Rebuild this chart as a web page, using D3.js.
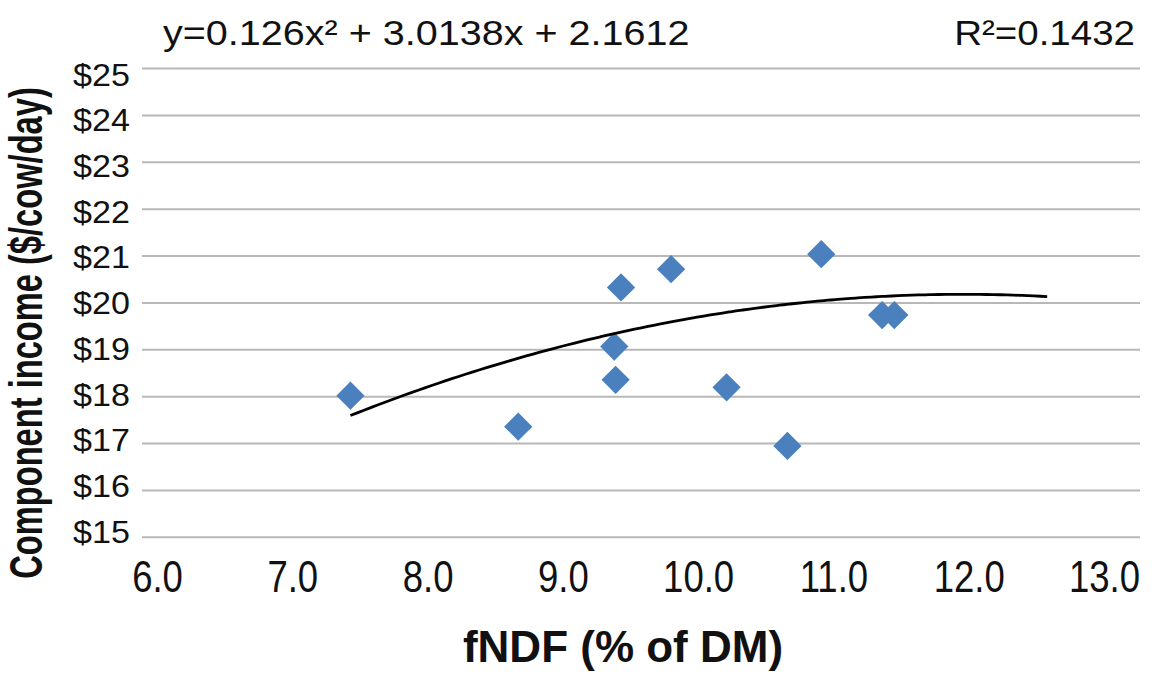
<!DOCTYPE html>
<html>
<head>
<meta charset="utf-8">
<script src="https://cdn.jsdelivr.net/npm/d3@7"></script>
<style>
  body { margin: 0; background: #fff; }
  svg { display: block; font-family: "Liberation Sans", Arial, sans-serif; }
</style>
</head>
<body>
<script>
'use strict';

// fNDF (% of DM) vs component income ($/cow/day)
const fndf   = [7.43, 8.67, 9.43, 9.38, 9.39, 9.80, 10.21, 10.91, 10.66, 11.36, 11.45];
const income = [18.02, 17.36, 20.33, 19.07, 18.36, 20.72, 18.20, 21.04, 16.95, 19.74, 19.74];

const xTicks = [6, 7, 8, 9, 10, 11, 12, 13];
const yTicks = [15, 16, 17, 18, 19, 20, 21, 22, 23, 24, 25];

// polynomial trendline as drawn (a, b, c) and how far it is forecast
const trendCoef = [-0.126, 3.0138, 2.1612];
const trendEnd = 12.6;

const eqLabel = 'y=0.126x² + 3.0138x + 2.1612';
const r2Label = 'R²=0.1432';
const xTitle = 'fNDF (% of DM)';
const yTitle = 'Component income ($/cow/day)';

(function() {
  const width = 1163, height = 674;
  const plotLeft = 142, plotRight = 1140;

  const svg = d3.select('body').append('svg')
    .attr('width', width)
    .attr('height', height);

  let x = d3.scaleLinear().domain([6, 13]).range([157, 1104]);
  let y = d3.scaleLinear().domain([15, 25]).range([537.3, 68.5]);
  // tick labels sit slightly off the gridlines in the original
  let yLab = d3.scaleLinear().domain([15, 25]).range([531, 74]);

  // gridlines
  svg.append('g')
    .selectAll('line')
    .data(yTicks)
    .enter()
    .append('line')
      .attr('x1', plotLeft)
      .attr('x2', plotRight)
      .attr('y1', (d) => y(d))
      .attr('y2', (d) => y(d))
      .attr('stroke', '#b8b8b8')
      .attr('stroke-width', 2);

  // axes
  let xAxis = svg.append('g')
    .attr('transform', 'translate(0, 537)')
    .call(d3.axisBottom(x).tickValues(xTicks).tickFormat(d3.format('.1f')).tickSize(0));
  xAxis.select('.domain').remove();
  xAxis.selectAll('text')
    .attr('y', 55)
    .attr('dy', 0)
    .attr('fill', '#111')
    .style('font-size', '44px')
    .attr('transform', 'scale(0.83,1)');

  let yAxis = svg.append('g')
    .attr('transform', 'translate(130, 0)')
    .call(d3.axisLeft(yLab).tickValues(yTicks).tickFormat((d) => '$' + d).tickSize(0));
  yAxis.select('.domain').remove();
  yAxis.selectAll('text')
    .attr('x', 0)
    .attr('dy', '0.36em')
    .attr('fill', '#111')
    .style('font-size', '31px')
    .attr('transform', 'scale(1.1,1)');

  // trendline
  let trendX = d3.range(d3.min(fndf), trendEnd + 0.001, 0.05);
  let poly = (v) => trendCoef[0] * v * v + trendCoef[1] * v + trendCoef[2];
  let line = d3.line()
    .x((d) => x(d))
    .y((d) => y(poly(d)))
    .curve(d3.curveMonotoneX);

  // points
  let pts = fndf.map((v, i) => ({ x: v, y: income[i] }));
  svg.append('g')
    .selectAll('path')
    .data(pts)
    .enter()
    .append('path')
      .attr('d', d3.symbol().type(d3.symbolSquare).size(400))
      .attr('transform', (d) => 'translate(' + x(d.x) + ',' + y(d.y) + ') rotate(45)')
      .attr('fill', '#4a80bd');

  svg.append('path')
    .datum(trendX)
    .attr('fill', 'none')
    .attr('stroke', '#000')
    .attr('stroke-width', 2.8)
    .attr('d', line);

  // equation and R²
  svg.append('text')
    .attr('transform', 'translate(163, 45) scale(1.13,1)')
    .style('font-size', '35px')
    .attr('fill', '#111')
    .text(eqLabel);

  svg.append('text')
    .attr('transform', 'translate(1135, 45) scale(1.1,1)')
    .attr('text-anchor', 'end')
    .style('font-size', '35px')
    .attr('fill', '#111')
    .text(r2Label);

  // axis titles
  svg.append('text')
    .attr('transform', 'translate(623, 662)')
    .attr('text-anchor', 'middle')
    .style('font-size', '44px')
    .style('font-weight', 'bold')
    .attr('fill', '#111')
    .text(xTitle);

  svg.append('text')
    .attr('transform', 'translate(42, 333) rotate(-90) scale(0.71,1)')
    .attr('text-anchor', 'middle')
    .style('font-size', '46px')
    .style('font-weight', 'bold')
    .attr('fill', '#111')
    .text(yTitle);
})();
</script>
</body>
</html>
